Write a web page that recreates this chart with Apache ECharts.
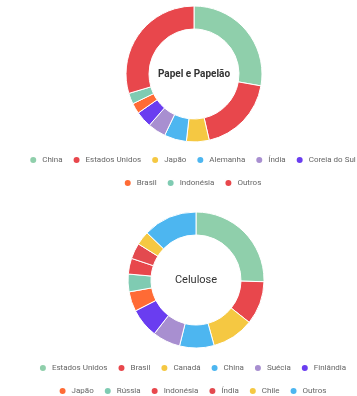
<!DOCTYPE html>
<html>
<head>
<meta charset="utf-8">
<script src="https://cdn.jsdelivr.net/npm/echarts@6/dist/echarts.min.js"></script>
<style>
html,body{margin:0;padding:0;background:#fff;overflow:hidden;}
#c{width:384px;height:396px;}
</style>
</head>
<body>
<div id="c"></div>
<script>
// Papel e Papelão
const paperCategories = ['China','Estados Unidos','Japão','Alemanha','Índia','Coreia do Sul','Brasil','Indonésia','Outros'];
const paperValues = [27.8, 18.6, 5.4, 5.3, 4.3, 3.9, 2.5, 2.6, 29.6];
const paperColors = ['#8fcfab','#e8474c','#f5c842','#4db6f0','#a88fd0','#6a3df0','#ff6b35','#7fcbb2','#e8474c'];
// Celulose
const pulpCategories = ['Estados Unidos','Brasil','Canadá','China','Suécia','Finlândia','Japão','Rússia','Indonésia','Índia','Chile','Outros'];
const pulpValues = [25.4, 10.3, 10.0, 8.2, 6.6, 7.0, 4.7, 4.2, 3.75, 3.75, 3.3, 12.8];
const pulpColors = ['#8fcfab','#e8474c','#f5c842','#4db6f0','#a88fd0','#6a3df0','#ff6b35','#7fcbb2','#e8474c','#e34a4f','#f5c842','#4db6f0'];

const chart = echarts.init(document.getElementById('c'));
const legendBase = {
  left: 'center', orient: 'horizontal', icon: 'circle',
  itemWidth: 8, itemHeight: 8, itemGap: 9,
  textStyle: {fontSize: 8, color: '#666', fontFamily: 'Roboto'}
};
function legendData(cats, cols, from, to){
  return cats.slice(from, to).map((c,i)=>({name: c, itemStyle: {color: cols[from + i]}}));
}
function mk(name, cats, vals, cols, center){
  return {
    type: 'pie', name: name, center: center, radius: [45, 68],
    startAngle: 90, clockwise: true,
    label: {show: false}, labelLine: {show: false},
    itemStyle: {borderColor: '#fff', borderWidth: 1},
    data: cats.map((c,i)=>({name: c, value: vals[i], itemStyle: {color: cols[i]}}))
  };
}
chart.setOption({
  animation: false,
  legend: [
    Object.assign({}, legendBase, {top: 150, data: legendData(paperCategories, paperColors, 0, 6)}),
    Object.assign({}, legendBase, {top: 173, data: legendData(paperCategories, paperColors, 6)}),
    Object.assign({}, legendBase, {top: 358, data: legendData(pulpCategories, pulpColors, 0, 6)}),
    Object.assign({}, legendBase, {top: 381, data: legendData(pulpCategories, pulpColors, 6)})
  ],
  graphic: [
    {type: 'text', x: 194, y: 74, style: {text: 'Papel e Papelão', textAlign: 'center', textVerticalAlign: 'middle', fontSize: 10, fontWeight: 'bold', fill: '#333', fontFamily: 'Roboto'}},
    {type: 'text', x: 196, y: 280, style: {text: 'Celulose', textAlign: 'center', textVerticalAlign: 'middle', fontSize: 11, fill: '#333', fontFamily: 'Roboto'}}
  ],
  series: [
    mk('Papel e Papelão', paperCategories, paperValues, paperColors, [194, 74]),
    mk('Celulose', pulpCategories, pulpValues, pulpColors, [196, 280])
  ]
});
</script>
</body>
</html>
